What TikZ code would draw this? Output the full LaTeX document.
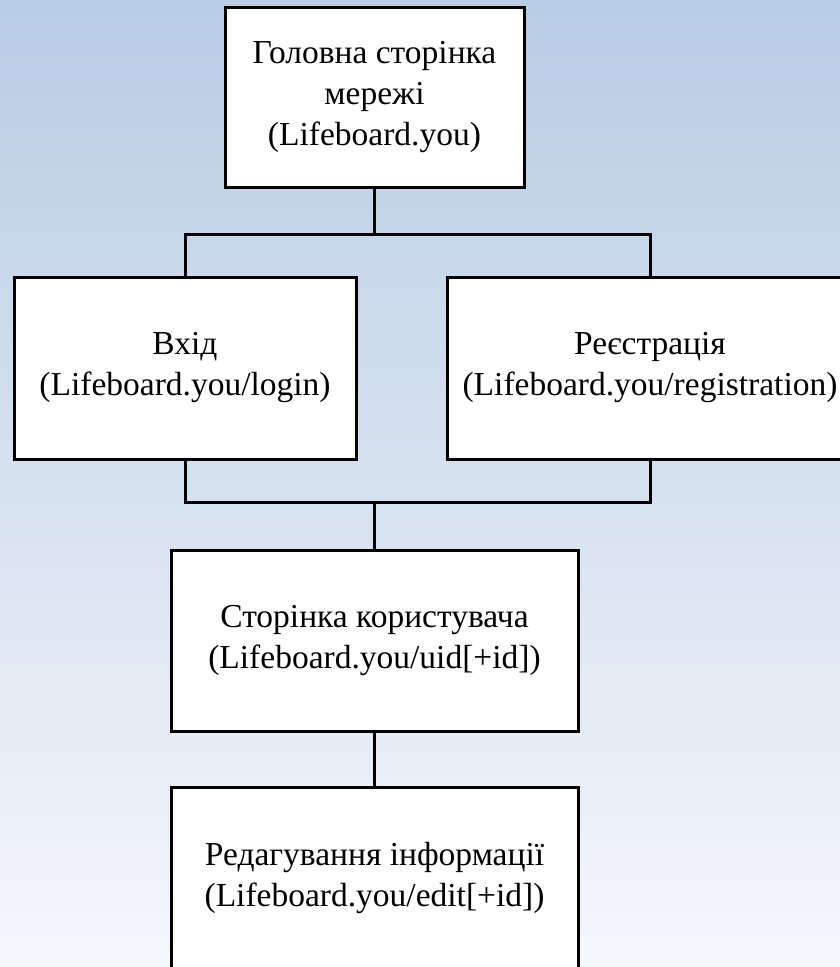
\documentclass[tikz,border=0pt]{standalone}
\usepackage{fontspec}
\setmainfont{Liberation Serif}
\definecolor{bgtop}{RGB}{184,204,228}
\definecolor{bgbot}{RGB}{245,247,251}
\tikzset{
  pagebox/.style={draw=black, line width=3pt, fill=white, rectangle, inner sep=0pt,
    align=center, font=\fontsize{33.5}{41}\selectfont, text=black},
  link/.style={draw=black, line width=3pt, line join=miter}
}
\begin{document}
\begin{tikzpicture}[x=1pt,y=-1pt]
\useasboundingbox (0,0) rectangle (840,967);
\clip (0,0) rectangle (840,967);
\shade[top color=bgtop, bottom color=bgbot] (0,0) rectangle (840,967);

\node[pagebox, minimum width=299pt, minimum height=180pt] (top) at (374.5,97)
  {Головна сторінка\\мережі\\(Lifeboard.you)};
\node[pagebox, minimum width=342pt, minimum height=182pt] (left) at (185,368)
  {Вхід\\(Lifeboard.you/login)};
\node[pagebox, minimum width=406pt, minimum height=182pt] (right) at (650,368)
  {Реєстрація\\(Lifeboard.you/registration)};
\node[pagebox, minimum width=407pt, minimum height=181pt] (mid) at (374.5,640.5)
  {Сторінка користувача\\(Lifeboard.you/uid[+id])};
\node[pagebox, minimum width=407pt, minimum height=181pt] (bot) at (374.5,877.5)
  {Редагування інформації\\(Lifeboard.you/edit[+id])};

\path (top.south) ++(0,46) coordinate (j1);
\path (mid.north) ++(0,-46) coordinate (j2);
\draw[link] (top.south) -- (j1);
\draw[link] (left.north) |- (j1) -| (right.north);
\draw[link] (left.south) |- (j2) -| (right.south);
\draw[link] (mid.north) -- (j2);
\draw[link] (mid.south) -- (bot.north);
\end{tikzpicture}
\end{document}
